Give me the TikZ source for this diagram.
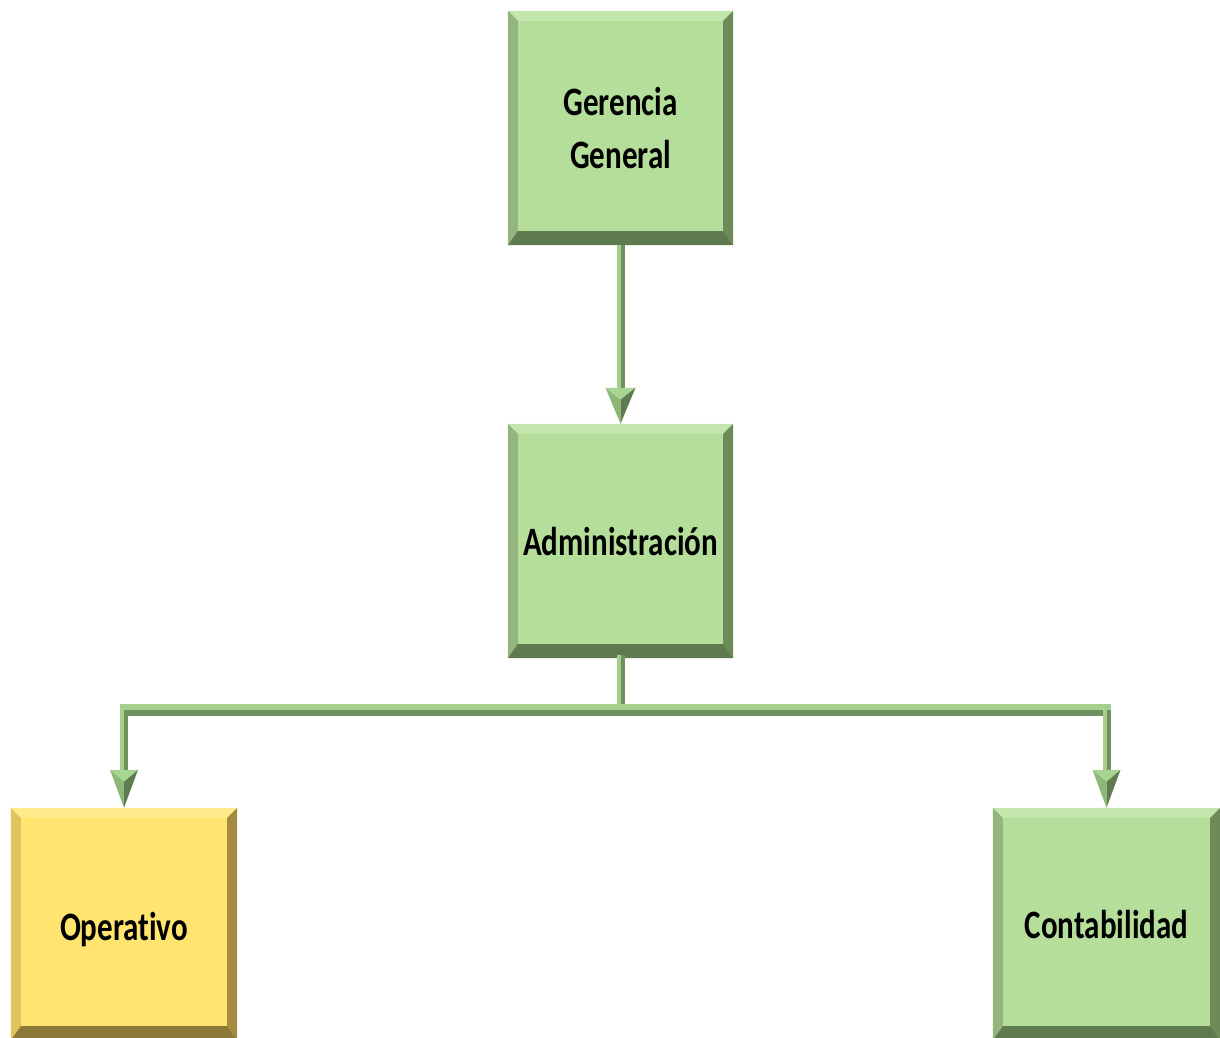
\documentclass[tikz,border=0pt]{standalone}
\usepackage{fontspec}
\setmainfont{Carlito}[Ligatures={NoCommon}]
\usetikzlibrary{calc}

% box palettes: face, top, left, right and bottom bevels
\definecolor{gFill}{HTML}{B4DE9A}
\definecolor{gTop}{HTML}{C3E6AD}
\definecolor{gLeft}{HTML}{94B67E}
\definecolor{gRight}{HTML}{6C8B58}
\definecolor{gBot}{HTML}{5E7A4E}
\definecolor{yFill}{HTML}{FFE46F}
\definecolor{yTop}{HTML}{FFEB8C}
\definecolor{yLeft}{HTML}{E2C25C}
\definecolor{yRight}{HTML}{A48B3F}
\definecolor{yBot}{HTML}{8C7838}
% connector shading
\definecolor{shL}{HTML}{A5CF8C}
\definecolor{shD}{HTML}{6F9160}
\definecolor{aTop}{HTML}{A8D592}
\definecolor{aLeft}{HTML}{8CB877}
\definecolor{aRight}{HTML}{5E7C4E}

\tikzset{
  orgbox/.style={rectangle, inner sep=0pt, align=center,
    font=\bfseries\fontsize{31}{38}\selectfont},
}

% bevelled frame around a node: #1 node, #2 top, #3 left, #4 right, #5 bottom
\newcommand\bevelframe[5]{%
  \fill[#2] (#1.north west) -- (#1.north east) -- ($(#1.north east)+(-10,10)$) -- ($(#1.north west)+(10,10)$) -- cycle;
  \fill[#3] (#1.north west) -- ($(#1.north west)+(10,10)$) -- ($(#1.south west)+(10,-14)$) -- (#1.south west) -- cycle;
  \fill[#4] (#1.north east) -- ($(#1.north east)+(-10,10)$) -- ($(#1.south east)+(-10,-14)$) -- (#1.south east) -- cycle;
  \fill[#5] (#1.south west) -- ($(#1.south west)+(10,-14)$) -- ($(#1.south east)+(-10,-14)$) -- (#1.south east) -- cycle;
}

% faceted arrow head with its tip at #1, height #2, half width #3
\newcommand\facethead[3]{%
  \fill[aTop] ($(#1)+(-#3,-#2)$) -- ($(#1)+(#3,-#2)$) -- ($(#1)+(0,-#2+12)$) -- cycle;
  \fill[aLeft] ($(#1)+(-#3,-#2)$) -- ($(#1)+(0,-#2+12)$) -- (#1) -- cycle;
  \fill[aRight] ($(#1)+(#3,-#2)$) -- ($(#1)+(0,-#2+12)$) -- (#1) -- cycle;
}

% label text, stretched vertically like the box captions
\newcommand\tallword[1]{\scalebox{1}[1.3]{#1}}

\begin{document}
\begin{tikzpicture}[x=1pt,y=-1pt]
\useasboundingbox (0,0) rectangle (1220,1037);

% boxes
\node[orgbox, fill=gFill, minimum width=225pt, minimum height=234pt] (g) at (620.5,128)
  {\tallword{Gerencia}\\[15pt]\tallword{General}};
\node[orgbox, fill=gFill, minimum width=225pt, minimum height=234pt] (a) at (620.5,541)
  {\tallword{Administración}};
\node[orgbox, fill=yFill, minimum width=226pt, minimum height=232pt] (o) at (124,924)
  {\raisebox{-16pt}[0pt][0pt]{\tallword{Operativo}}};
\node[orgbox, fill=gFill, minimum width=227pt, minimum height=232pt] (c) at (1106.5,924)
  {\tallword{Contabilidad}};

\bevelframe{g}{gTop}{gLeft}{gRight}{gBot}
\bevelframe{a}{gTop}{gLeft}{gRight}{gBot}
\bevelframe{o}{yTop}{yLeft}{yRight}{yBot}
\bevelframe{c}{gTop}{gLeft}{gRight}{gBot}

% Gerencia -> Administracion
\fill[shL] ($(g.south)+(-4,0)$) rectangle ($(a.north)+(0,-30)$);
\fill[shD] (g.south) rectangle ($(a.north)+(4,-30)$);
\facethead{a.north}{36}{15}

% Administracion -> Operativo / Contabilidad
\coordinate (j) at ($(a.south)+(0,52)$);
\coordinate (jl) at (o.north |- j);
\coordinate (jr) at (c.north |- j);
\fill[shL] ($(a.south)+(-4,-3)$) rectangle ($(j)+(0,6)$);
\fill[shD] ($(a.south)+(0,-3)$) rectangle ($(j)+(4,6)$);
\fill[shL] ($(jl)+(-4,-6)$) rectangle ($(jr)+(4,0)$);
\fill[shD] ($(jl)+(-4,0)$) rectangle ($(jr)+(4,6)$);
\fill[shL] ($(jl)+(-4,-6)$) rectangle ($(o.north)+(0,-32)$);
\fill[shD] ($(jl)+(0,0)$) rectangle ($(o.north)+(4,-32)$);
\fill[shL] ($(jr)+(-4,-6)$) rectangle ($(c.north)+(0,-32)$);
\fill[shD] ($(jr)+(0,0)$) rectangle ($(c.north)+(4,-32)$);
\facethead{o.north}{38}{14}
\facethead{c.north}{38}{14}
\end{tikzpicture}
\end{document}
